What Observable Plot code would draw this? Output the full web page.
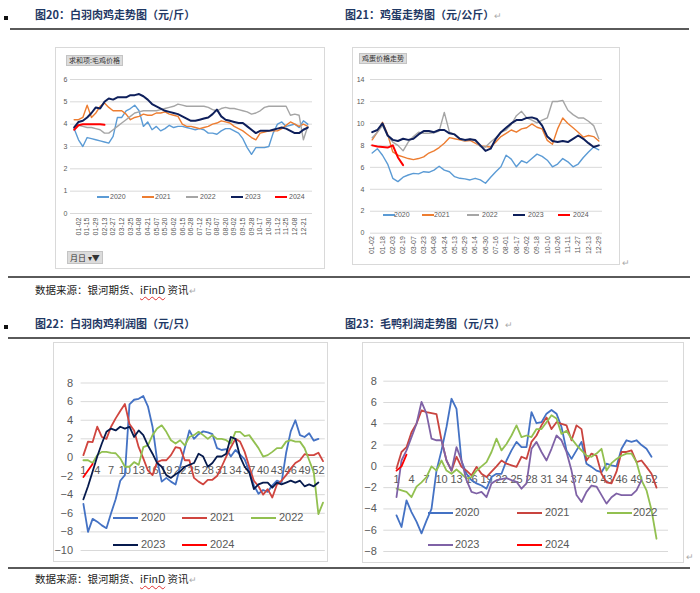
<!DOCTYPE html>
<html><head><meta charset="utf-8">
<script src="https://cdn.jsdelivr.net/npm/d3@7"></script>
<script src="https://cdn.jsdelivr.net/npm/@observablehq/plot@0.6"></script>
<style>
body{margin:0;background:#fff;}
#page{position:relative;width:700px;height:593px;overflow:hidden;background:#fff;font-family:"Noto Sans CJK SC","Noto Sans",sans-serif;}
.abs{position:absolute;}
.title{position:absolute;font-size:11px;font-weight:bold;color:#1f3864;white-space:nowrap;line-height:14px;}
.cap{position:absolute;font-size:10.5px;color:#222;white-space:nowrap;line-height:13px;}
.cap .sp{text-decoration:underline wavy #e03030;text-decoration-thickness:1px;text-underline-offset:2px;}
.ret{color:#aaa;font-weight:normal;font-size:9px;}
.rule{position:absolute;height:1.5px;background:#5a5a5a;}
.bullet{position:absolute;width:4px;height:4px;background:#111;}
.box{position:absolute;border:1px solid #d9d9d9;background:#fff;box-sizing:border-box;}
.chart{position:absolute;}
.btn{position:absolute;background:#dcdcdc;border:1px solid #c4c4c4;font-size:7px;line-height:9px;color:#333;padding:0 2px;white-space:nowrap;font-family:"Noto Sans CJK SC",sans-serif;}
.lg{position:absolute;white-space:nowrap;color:#595959;font-family:"Liberation Sans",sans-serif;}
.lg i{position:absolute;display:block;}
.lg span{position:absolute;}
</style></head>
<body><div id="page"></div>
<script>
// ---------------- data ----------------
// 图20 白羽肉鸡 (元/斤): samples every half tick interval, first sample half an interval before the first tick
const c20Ticks = ["01-02","01-15","01-29","02-13","02-27","03-12","03-25","04-08","04-21","05-07","05-20","06-02","06-15","06-28","07-12","07-25","08-07","08-20","09-02","09-15","09-28","10-17","10-30","11-12","11-25","12-08","12-21"];
const c20_2020 = [3.8,3.3,3.0,3.4,3.35,3.3,3.25,3.2,3.15,3.45,4.3,4.3,4.6,4.7,4.85,4.6,3.9,4.1,3.75,3.9,3.7,3.8,3.95,3.85,3.9,3.9,3.85,3.8,3.75,3.8,3.75,3.6,3.6,3.55,3.7,3.8,3.8,3.7,3.6,3.35,2.95,2.65,2.95,2.95,2.95,3.0,3.6,4.0,4.1,3.9,3.95,4.0,3.85,4.15,4.0];
const c20_2021 = [4.2,4.2,4.3,4.85,4.3,4.5,4.8,4.95,4.75,4.6,4.6,4.6,4.45,4.2,4.3,4.35,4.45,4.4,4.4,4.5,4.5,4.55,4.45,4.4,4.35,4.0,3.9,3.9,3.85,3.8,3.85,3.9,4.0,4.05,4.15,4.1,4.05,3.9,3.8,3.7,3.55,3.4,3.3,3.6,3.65,3.7,3.7,3.7,3.8,3.95,4.1,4.0,3.9,4.0,3.9];
const c20_2022 = [3.9,3.95,3.9,3.85,3.85,3.8,3.75,3.6,3.6,3.75,3.9,4.05,4.2,4.35,4.5,4.55,4.6,4.6,4.6,4.6,4.65,4.7,4.75,4.8,4.9,4.85,4.8,4.8,4.8,4.8,4.8,4.75,4.65,4.6,4.7,4.75,4.7,4.7,4.65,4.6,4.55,4.45,4.5,4.6,4.75,4.8,4.8,4.8,4.8,4.8,4.4,4.45,4.4,3.3,3.9];
const c20_2023 = [3.85,4.1,4.15,4.3,4.5,4.75,4.7,5.0,5.15,5.1,5.2,5.2,5.2,5.3,5.3,5.35,5.25,5.1,4.9,4.8,4.7,4.6,4.55,4.5,4.45,4.35,4.25,4.15,4.15,4.2,4.25,4.3,4.45,4.65,4.35,4.2,4.15,4.1,4.05,4.05,3.9,3.75,3.6,3.7,3.7,3.7,3.75,3.8,3.85,3.8,3.7,3.6,3.6,3.75,3.85];
const c20_2024 = [3.75,3.95,4.0,4.0,4.0,4.0,4.0,3.97];
const c20YTicks = [0,1,2,3,4,5,6];

// 图21 鸡蛋 (元/公斤): samples every half tick interval starting at the first tick
const c21Ticks = ["01-02","01-18","02-03","02-19","03-07","03-23","04-08","04-24","05-13","05-29","06-14","06-30","07-16","08-01","08-17","09-02","09-18","10-10","10-26","11-11","11-27","12-13","12-29"];
const c21_2020 = [7.3,7.7,7.1,6.3,5.0,4.7,5.1,5.3,5.45,5.4,5.6,5.55,5.75,6.1,5.75,5.6,5.15,5.0,4.95,4.85,5.0,4.85,4.55,5.1,5.6,6.05,7.1,6.75,6.05,6.6,6.4,6.8,7.2,7.0,6.65,6.05,6.3,6.8,6.5,6.05,6.3,6.9,7.4,7.85,7.6];
const c21_2021 = [8.5,9.2,10.1,9.0,7.4,7.1,6.95,6.8,6.7,6.8,6.95,7.3,7.5,7.8,8.2,8.7,8.6,8.5,8.4,8.45,8.2,7.95,7.9,7.85,8.3,8.8,9.1,9.4,9.2,9.5,9.6,9.95,9.65,9.5,8.45,8.1,9.5,10.5,10.0,9.6,9.2,8.75,8.9,8.8,8.4];
const c21_2022 = [8.7,9.2,9.8,8.9,8.3,8.0,7.5,8.3,8.8,9.2,9.1,9.1,9.15,9.3,11.0,9.2,9.0,8.6,8.4,8.6,8.4,7.9,7.85,8.3,8.7,9.2,9.4,9.9,10.7,11.1,10.5,10.3,10.05,10.3,10.5,12.0,12.0,12.1,11.2,10.8,10.5,10.5,10.2,9.8,8.6];
const c21_2023 = [9.2,9.4,10.0,8.9,8.5,8.4,8.6,8.5,8.6,9.0,9.3,9.3,9.2,9.4,9.4,9.1,9.0,8.6,8.5,8.55,8.5,8.0,7.5,7.7,8.6,9.2,9.6,10.0,10.3,10.3,10.5,10.55,10.4,9.8,8.8,8.4,8.3,8.4,8.3,8.6,8.9,8.6,8.2,7.85,8.0];
const c21_2024 = [8.0,7.9,7.85,7.8,8.0,6.9,6.2];
const c21YTicks = [0,2,4,6,8,10,12,14];

// 图22 白羽肉鸡利润 (元/只), weekly
const c22_2020 = [-5.0,-8.0,-6.6,-6.9,-7.3,-7.6,-6.0,-4.5,-2.5,-1.9,5.7,6.2,6.3,6.6,5.5,3.3,-0.3,-2.6,-2.2,-2.6,-2.9,-1.0,1.0,2.9,2.0,2.5,2.8,2.7,2.5,1.0,0.8,0.9,0.1,0.8,0.3,-0.2,-1.5,-3.0,-3.9,-3.5,-3.7,-3.0,-2.5,-2.7,0.5,2.8,4.0,2.4,2.2,2.6,1.8,2.0];
const c22_2021 = [0.25,1.7,1.65,3.3,2.2,2.0,3.3,4.2,5.0,5.75,3.6,2.9,1.1,-0.1,-1.4,-1.9,-0.5,-0.3,-0.3,0.25,1.1,1.0,-0.3,-0.3,-2.2,-2.6,-2.9,-2.4,-2.4,-2.0,-1.0,0.1,1.1,2.0,1.7,0.6,-1.0,-2.5,-3.1,-4.0,-3.4,-4.3,-2.9,-2.5,-1.9,-1.2,-0.6,-0.3,0.35,0.25,0.25,0.5,-0.4];
const c22_2022 = [-0.3,-0.3,-0.6,0.25,0.6,0.6,0.5,0.45,-0.1,-1.0,-1.0,-0.5,-0.8,1.1,1.3,2.4,3.1,3.45,2.75,1.85,1.5,1.85,1.3,2.2,2.4,2.75,2.4,2.0,2.4,2.0,2.0,1.85,1.5,2.75,2.75,2.3,2.4,1.7,1.0,0.1,0.25,0.6,1.0,1.0,1.7,1.85,1.7,1.7,1.0,-0.3,-1.6,-6.1,-4.85];
const c22_2023 = [-4.5,-3.1,-1.5,0.1,1.5,2.75,3.1,2.9,3.3,3.1,3.3,2.2,2.9,2.4,1.3,0.4,-0.6,-1.0,-1.9,-2.2,-1.8,-1.5,-1.0,-0.8,-0.6,0.4,0.1,-1.0,-0.6,0.1,0.1,0.4,2.2,2.0,0.1,-1.0,-1.6,-3.4,-2.9,-2.7,-2.7,-3.25,-2.7,-2.9,-2.7,-2.5,-2.7,-2.5,-3.1,-2.9,-3.1,-2.7];
const c22_2024 = [-2.1,-1.4,-0.7];
const c22YTicks = [-10,-8,-6,-4,-2,0,2,4,6,8];

// 图23 毛鸭利润 (元/只), weekly
const c23_2020 = [-4.6,-5.7,-3.2,-4.3,-5.2,-6.3,-5.1,-4.0,-0.4,1.5,3.7,6.35,5.4,0.5,-0.7,-1.3,-1.6,-1.8,-2.1,-1.0,-0.7,-0.7,0.55,1.5,2.3,1.8,1.8,5.1,4.05,4.15,4.95,5.3,4.95,3.7,1.5,0.7,1.5,2.3,0.25,-0.05,-0.4,-0.55,0.25,0.1,0.0,1.65,2.45,2.3,2.45,2.0,1.65,0.9];
const c23_2021 = [-0.2,1.35,1.8,3.2,4.0,5.25,5.1,5.0,4.9,2.45,0.55,-0.4,0.9,-0.05,-0.4,-0.85,-0.05,-0.7,-1.0,-0.5,0.0,0.55,0.25,0.1,-0.05,0.9,0.7,2.3,2.9,3.85,4.6,3.5,4.15,4.0,3.85,2.45,3.85,3.5,0.55,1.2,1.0,-0.7,-1.5,-1.6,-0.5,1.35,1.35,1.5,0.4,0.55,-0.05,-0.7,-2.0];
const c23_2022 = [-2.1,-2.25,-2.4,-2.9,-1.9,-1.5,-1.0,0.0,-0.4,0.55,-0.4,-0.7,-0.3,-0.7,-1.15,-1.0,-0.4,0.0,0.4,1.35,2.6,1.5,2.1,2.9,3.85,2.75,2.9,2.75,3.5,3.5,4.15,4.8,4.5,3.05,3.35,2.6,2.0,1.5,1.0,0.9,1.2,1.65,-0.4,0.3,0.7,1.0,1.2,1.2,0.4,-1.3,-2.25,-4.1,-6.8];
const c23_2023 = [-2.9,0.55,1.5,2.75,4.0,6.05,4.95,2.6,2.45,2.45,0.55,-0.4,1.8,0.55,-1.3,-2.4,-2.55,-2.4,-2.9,-1.6,-1.3,-1.2,-1.1,-1.3,-1.45,-2.1,-1.6,1.65,2.3,1.35,0.55,1.65,2.9,2.45,1.35,-0.4,-2.7,-3.35,-2.4,-1.8,-1.9,-2.7,-3.5,-2.9,-2.55,-2.7,-2.7,-2.7,-2.25,-1.3];
const c23_2024 = [-0.4,0.0,1.1];
const c23YTicks = [-8,-6,-4,-2,0,2,4,6,8];

const weeks = Array.from({length: 53}, (_, i) => i + 1);
const weekLabels = [1,4,7,10,13,16,19,22,25,28,31,34,37,40,43,46,49,52];
const seriesNames = ["2020","2021","2022","2023","2024"];

// ---------------- helpers ----------------
const page = document.getElementById("page");
function el(tag, cls, css, html){const e=document.createElement(tag); if(cls) e.className=cls; if(css) e.style.cssText=css; if(html!=null) e.innerHTML=html; page.appendChild(e); return e;}
const sampled = (vals, start, step) => vals.map((v, i) => ({x: start + i * step, y: v}));
const weekly = vals => vals.map((v, i) => ({x: weeks[i], y: v}));

function legend(items, top, fontSize, lineW, thick){
  items.forEach(([name, color, lx, tx]) => {
    const d = el("div", "lg", `left:0;top:${top}px;font-size:${fontSize}px;`);
    d.innerHTML = `<i style="left:${lx}px;top:${-thick/2}px;width:${lineW}px;height:${thick}px;background:${color}"></i><span style="left:${tx}px;top:${-fontSize*0.62}px;line-height:${fontSize*1.2}px">${name}</span>`;
  });
}

// ---------------- page furniture ----------------
el("div","bullet","left:4px;top:16px;");
el("div","title","left:35px;top:7px;","图20：白羽肉鸡走势图（元/斤）");
el("div","title","left:345px;top:7px;","图21：鸡蛋走势图（元/公斤）<span class='ret'>↵</span>");
el("div","rule","left:10px;top:28px;width:679px;");

el("div","box","left:55px;top:47px;width:270px;height:222px;");
el("div","box","left:352px;top:47px;width:268px;height:218px;");
el("div","abs","left:622px;top:256px;font-size:9px;color:#aaa;","↵");

el("div","rule","left:8px;top:276px;width:682px;");
el("div","cap","left:35px;top:283px;","数据来源：银河期货、<span class='sp'>iFinD</span> 资讯<span class='ret'>↵</span>");

el("div","bullet","left:4px;top:325px;");
el("div","title","left:35px;top:316px;","图22：白羽肉鸡利润图（元/只）");
el("div","title","left:345px;top:316px;","图23：毛鸭利润走势图（元/只）<span class='ret'>↵</span>");
el("div","rule","left:8px;top:337px;width:682px;");

el("div","box","left:53px;top:342px;width:275px;height:220px;");
el("div","box","left:362px;top:342px;width:322px;height:221px;");
el("div","abs","left:686px;top:550px;font-size:9px;color:#aaa;","↵");

el("div","rule","left:8px;top:567px;width:682px;");
el("div","cap","left:35px;top:572px;","数据来源：银河期货、<span class='sp'>iFinD</span> 资讯<span class='ret'>↵</span>");

// ---------------- chart 20 ----------------
const col20 = {"2020":"#5b9bd5","2021":"#ed7d31","2022":"#a5a5a5","2023":"#0e1f5b","2024":"#ff0000"};
const s20 = [c20_2020,c20_2021,c20_2022,c20_2023,c20_2024];
const p20 = Plot.plot({
  width: 266, height: 220,
  marginTop: 31, marginBottom: 55, marginLeft: 13, marginRight: 11,
  style: {background:"transparent", fontFamily:"Liberation Sans, sans-serif", fontSize:"7px", color:"#595959", overflow:"visible"},
  x: {domain: [-0.925, 27.05]},
  y: {domain: [0, 6]},
  marks: [
    Plot.gridY(c20YTicks, {stroke:"#d9d9d9", strokeOpacity:1}),
    Plot.axisY(c20YTicks, {tickSize:0, tickPadding:3, label:null}),
    Plot.axisX(c20Ticks.map((_, i) => i), {tickFormat: i => c20Ticks[i], tickRotate:-90, tickSize:0, tickPadding:4, label:null}),
    ...s20.map((vals, k) => Plot.line(sampled(vals, -0.5, 0.5), {x:"x", y:"y", stroke: col20[seriesNames[k]], strokeWidth: k >= 3 ? 2 : 1.4}))
  ]
});
const d20 = el("div","chart","left:57px;top:48px;"); d20.appendChild(p20);
el("div","btn","left:66px;top:55px;","求和项:毛鸡价格");
el("div","btn","left:67px;top:251px;font-size:8px;line-height:11px;","月日 ▾▼");
legend([["2020",col20["2020"],97,110],["2021",col20["2021"],142,155],["2022",col20["2022"],186,200],["2023",col20["2023"],231,245],["2024",col20["2024"],275,289]], 197, 7, 12, 2);

// ---------------- chart 21 ----------------
const s21 = [c21_2020,c21_2021,c21_2022,c21_2023,c21_2024];
const p21 = Plot.plot({
  width: 267, height: 217,
  marginTop: 31, marginBottom: 32.3, marginLeft: 17, marginRight: 18,
  style: {background:"transparent", fontFamily:"Liberation Sans, sans-serif", fontSize:"7px", color:"#595959", overflow:"visible"},
  x: {domain: [-0.165, 22.36]},
  y: {domain: [0, 14]},
  marks: [
    Plot.gridY(c21YTicks, {stroke:"#d9d9d9", strokeOpacity:1}),
    Plot.axisY(c21YTicks, {tickSize:0, tickPadding:6, label:null}),
    Plot.axisX(c21Ticks.map((_, i) => i), {tickFormat: i => c21Ticks[i], tickRotate:-90, tickSize:0, tickPadding:3, label:null}),
    ...s21.map((vals, k) => Plot.line(sampled(vals, 0, 0.5), {x:"x", y:"y", stroke: col20[seriesNames[k]], strokeWidth: k >= 3 ? 2 : 1.4}))
  ]
});
const d21 = el("div","chart","left:353px;top:48px;"); d21.appendChild(p21);
el("div","btn","left:359px;top:53px;","鸡蛋价格走势");
legend([["2020",col20["2020"],383,394],["2021",col20["2021"],422,434],["2022",col20["2022"],467,482],["2023",col20["2023"],513,528],["2024",col20["2024"],558,573]], 215, 7, 12, 2);

// ---------------- chart 22 ----------------
const col22 = {"2020":"#4472c4","2021":"#d0453f","2022":"#92c050","2023":"#061a4d","2024":"#ff0000"};
const s22 = [c22_2020,c22_2021,c22_2022,c22_2023,c22_2024];
const p22 = Plot.plot({
  width: 274, height: 219,
  marginTop: 40.5, marginBottom: 11, marginLeft: 27.6, marginRight: 2.2,
  style: {background:"transparent", fontFamily:"Liberation Sans, sans-serif", fontSize:"11px", color:"#595959", overflow:"visible"},
  x: {type:"point", domain: weeks, padding: 0.5, axis: null},
  y: {domain: [-10, 8]},
  marks: [
    Plot.gridY(c22YTicks, {stroke:"#d9d9d9", strokeOpacity:1}),
    Plot.axisY(c22YTicks, {tickSize:0, tickPadding:8, label:null}),
    Plot.text(weekLabels, {x: d => d, y: () => 0, dy: 13, fill:"#595959"}),
    ...s22.map((vals, k) => Plot.line(weekly(vals), {x:"x", y:"y", stroke: col22[seriesNames[k]], strokeWidth: 1.8}))
  ]
});
const d22 = el("div","chart","left:53px;top:342px;"); d22.appendChild(p22);
legend([["2020",col22["2020"],113,141],["2021",col22["2021"],182,210],["2022",col22["2022"],251,279]], 518, 11, 25, 2);
legend([["2023",col22["2023"],113,141],["2024",col22["2024"],182,210]], 545, 11, 25, 2);

// ---------------- chart 23 ----------------
const col23 = {"2020":"#4472c4","2021":"#c9443f","2022":"#92c050","2023":"#7f62a6","2024":"#ff0000"};
const s23 = [c23_2020,c23_2021,c23_2022,c23_2023,c23_2024];
const p23 = Plot.plot({
  width: 320, height: 220,
  marginTop: 38.7, marginBottom: 11, marginLeft: 20.3, marginRight: 15,
  style: {background:"transparent", fontFamily:"Liberation Sans, sans-serif", fontSize:"11px", color:"#595959", overflow:"visible"},
  x: {type:"point", domain: weeks, padding: 0.5, axis: null},
  y: {domain: [-8, 8]},
  marks: [
    Plot.gridY(c23YTicks, {stroke:"#d9d9d9", strokeOpacity:1}),
    Plot.axisY(c23YTicks, {tickSize:0, tickPadding:7, label:null}),
    Plot.text(weekLabels, {x: d => d, y: () => 0, dy: 13.5, fill:"#595959"}),
    ...s23.map((vals, k) => Plot.line(weekly(vals), {x:"x", y:"y", stroke: col23[seriesNames[k]], strokeWidth: 1.8}))
  ]
});
const d23 = el("div","chart","left:363px;top:342px;"); d23.appendChild(p23);
legend([["2020",col23["2020"],428,455],["2021",col23["2021"],517,545],["2022",col23["2022"],607,633]], 513, 11, 25, 2);
legend([["2023",col23["2023"],428,455],["2024",col23["2024"],517,545]], 545, 11, 25, 2);
</script></body></html>
